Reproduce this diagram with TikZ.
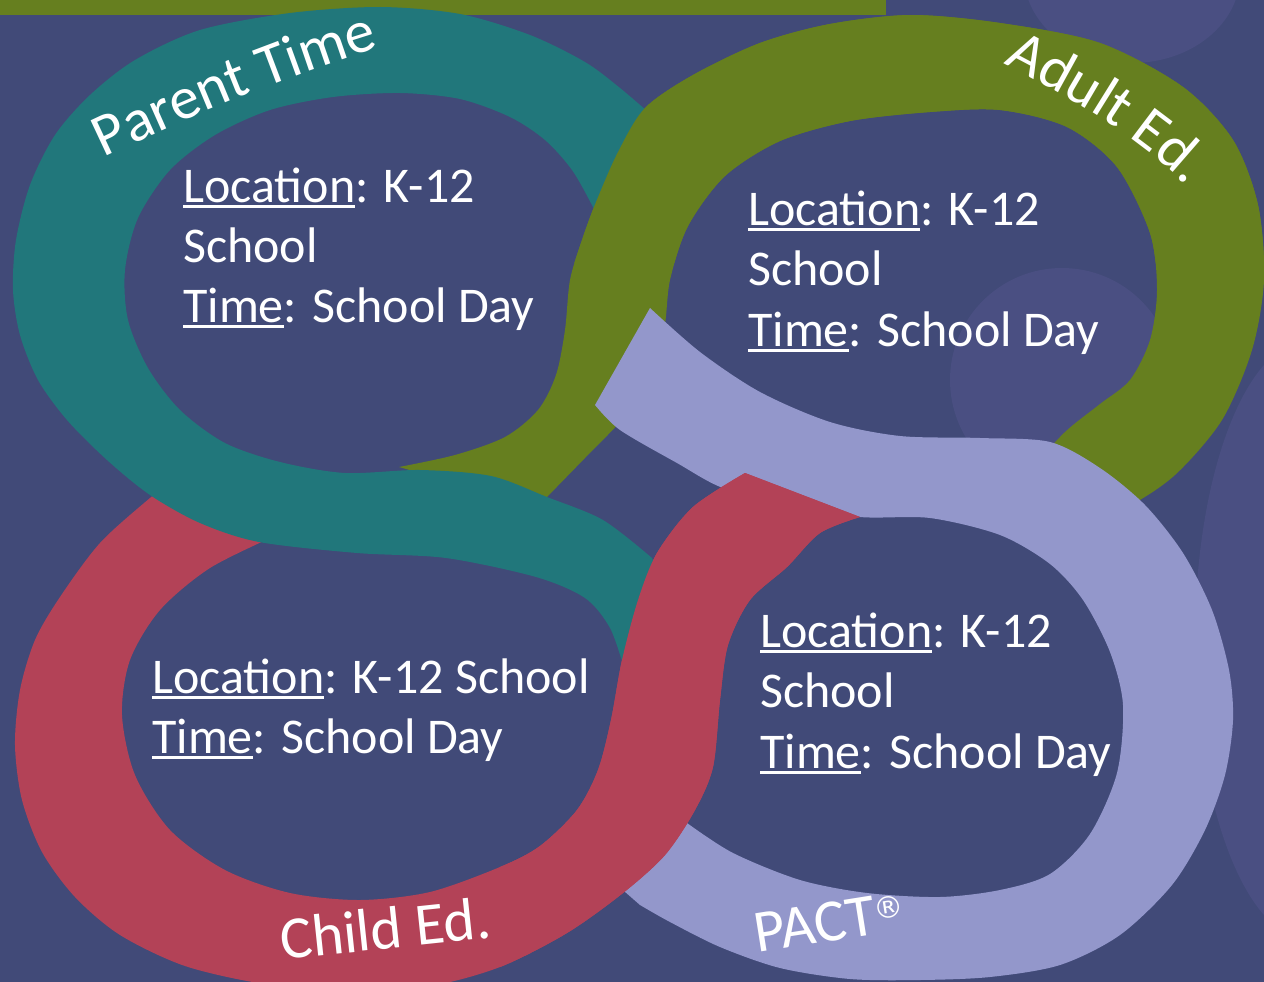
\documentclass[tikz,border=0pt]{standalone}
\usepackage{fontspec}
\setmainfont{Carlito}
\newfontfamily\symfont{DejaVu Sans}
\usetikzlibrary{decorations.text}
\definecolor{bgmain}{HTML}{414A78}
\definecolor{bglight}{HTML}{4A4F82}
\definecolor{bgdark}{HTML}{3B426E}
\definecolor{ringteal}{HTML}{21777B}
\definecolor{ringgreen}{HTML}{667F1F}
\definecolor{ringred}{HTML}{B34257}
\definecolor{ringlav}{HTML}{9397CB}
\newcommand{\myul}[1]{\setbox0=\hbox{#1}\rlap{\rule[-6pt]{\wd0}{3pt}}\box0}
\newcommand{\labfont}{\fontsize{60}{72}\selectfont\color{white}}
\tikzset{
  body/.style={text=white,font=\fontsize{50}{60}\selectfont,anchor=base west,inner sep=0pt},
  lab/.style={text=white,font=\fontsize{60}{72}\selectfont,anchor=base west,inner sep=0pt},
  curvelab/.style={decorate,decoration={text along path,text align=center,text={|\labfont|#1}}},
}
\newcommand{\greenring}{%
  \fill[ringgreen] plot[smooth] coordinates {(399,467) (455,455) (505,437) (538,410) (556,375) (565,330) (570,280) (582,240) (596,202) (618,152) (645,108) (693,75) (760,43) (830,24) (911,15) (1000,23) (1100,43) (1183,87) (1233,140) (1258,205) (1264,280) (1252,350) (1222,420) (1175,475) (1127,507) (1080,522)}
   -- plot[smooth] coordinates {(1030,470) (1065,432) (1100,404) (1130,380) (1150,340) (1157,290) (1150,233) (1117,167) (1067,127) (1000,110) (930,112) (850,121) (780,141) (725,176) (688,226) (670,280) (663,335) (640,395) (620,422) (585,458) (547,497)}
   -- (480,490) -- cycle;}
\newcommand{\redring}{%
  \fill[ringred] plot[smooth] coordinates {(195,462) (150,498) (100,543) (60,597) (35,640) (20,690) (15,745) (22,800) (42,852) (75,897) (120,935) (185,966) (265,984) (350,990) (430,986) (500,967) (567,933) (623,893) (665,855) (695,810) (713,767) (720,700) (728,645) (750,600) (787,567) (820,533) (860,517)}
   -- plot[smooth] coordinates {(745,473) (693,507) (657,553) (638,600) (622,660) (611,720) (598,770) (577,810) (540,846) (500,867) (430,892) (360,900) (290,893) (225,870) (170,830) (135,775) (122,715) (130,660) (160,610) (210,568) (277,535)}
   -- (300,515) -- (230,470) -- cycle;}
\begin{document}
\begin{tikzpicture}[x=1pt,y=-1pt]
\useasboundingbox (0,0) rectangle (1264,982);
\clip (0,0) rectangle (1264,982);
\fill[bgmain] (0,0) rectangle (1264,982);
% background decoration
\fill[bglight] (1132,-25) ellipse [x radius=108, y radius=88];
\fill[bglight] (1062,380) circle [radius=112];
\fill[bglight] (1310,640) ellipse [x radius=115, y radius=300];
\fill[bgdark] (1345,650) ellipse [x radius=80, y radius=260];
% top bar
\fill[ringgreen] (0,0) rectangle (886,15);
% rings
\greenring
\fill[ringlav] plot[smooth] coordinates {(650,308) (700,352) (760,392) (830,422) (900,436) (980,438) (1050,442) (1100,468) (1145,505) (1183,553) (1212,610) (1229,670) (1233,720) (1225,775) (1205,830) (1172,885) (1120,935) (1060,965) (990,977) (920,980) (850,979) (780,968) (720,947) (670,922) (640,905)}
   -- (600,870) -- (640,800)
   -- plot[smooth] coordinates {(687,823) (733,853) (800,880) (867,893) (940,897) (1000,890) (1050,874) (1090,834) (1117,773) (1123,705) (1110,652) (1083,600) (1050,564) (1000,535) (930,518) (860,517) (790,505) (723,488) (677,463) (620,430) (595,405)}
   -- cycle;
\redring
\fill[ringteal] plot[smooth] coordinates {(655,118) (620,88) (585,62) (530,35) (460,14) (380,7) (290,13) (200,30) (135,60) (90,95) (55,135) (30,185) (16,240) (13,290) (20,335) (38,380) (67,420) (107,460) (150,495) (200,523) (259,542) (357,553) (446,558) (536,577) (585,598) (610,628) (624,668)}
   -- (648,695) -- (668,600)
   -- plot[smooth] coordinates {(652,558) (603,520) (547,497) (491,476) (420,470) (345,473) (280,462) (225,443) (180,410) (148,368) (128,320) (125,270) (138,218) (170,170) (215,135) (270,110) (333,97) (400,93) (460,99) (510,117) (545,140) (572,170) (593,207) (612,245)}
   -- cycle;
\begin{scope}
  \clip (0,0) rectangle (1264,262);
  \greenring
\end{scope}
\begin{scope}
  \clip (500,0) rectangle (1264,982);
  \redring
\end{scope}
% ring labels
\path[curvelab={Parent Time}] (92,163) .. controls (190,116) and (290,74) .. (392,44);
\path[curvelab={Adult Ed.}] (990,56) .. controls (1050,88) and (1140,132) .. (1197,197);
\node[lab,rotate=6] (child) at (282,960) {Child Ed.};
\node[lab,rotate=9] (pact) at (757,953) {PACT\raisebox{14pt}{\symfont\fontsize{30}{30}\selectfont ®}};
% hole texts
\node[body] (pt1) at (183,202) {\myul{Location}: K-12};
\node[body] (pt2) at (183,262) {School};
\node[body] (pt3) at (183,322) {\myul{Time}: School Day};
\node[body] (ae1) at (748,225) {\myul{Location}: K-12};
\node[body] (ae2) at (748,285) {School};
\node[body] (ae3) at (748,346) {\myul{Time}: School Day};
\node[body] (ce1) at (152,693) {\myul{Location}: K-12 School};
\node[body] (ce2) at (152,753) {\myul{Time}: School Day};
\node[body] (pa1) at (760,647) {\myul{Location}: K-12};
\node[body] (pa2) at (760,707) {School};
\node[body] (pa3) at (760,768) {\myul{Time}: School Day};
\end{tikzpicture}
\end{document}
